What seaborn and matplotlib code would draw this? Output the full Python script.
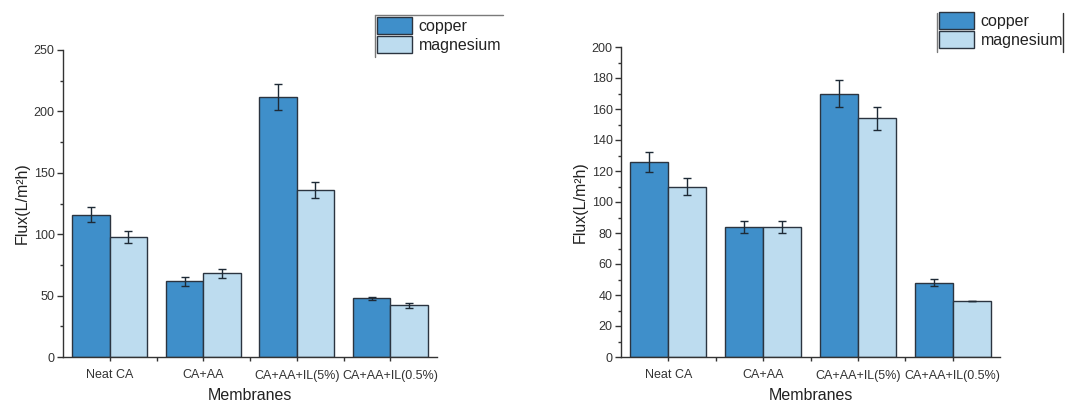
import numpy as np
import pandas as pd
import matplotlib
matplotlib.use("Agg")
import matplotlib.pyplot as plt
from matplotlib.lines import Line2D
from matplotlib.ticker import MultipleLocator, FixedLocator
import seaborn as sns

# ---------------- data ----------------
membranes = ["Neat CA", "CA+AA", "CA+AA+IL(5%)", "CA+AA+IL(0.5%)"]
metals = ["copper", "magnesium"]

left_copper = [116, 61.5, 212, 48]
left_copper_err = [6, 3.5, 10.5, 1.2]
left_magnesium = [98, 68, 136, 42]
left_magnesium_err = [5, 3.5, 6.5, 2]

right_copper = [126, 84, 170, 48]
right_copper_err = [6.5, 4, 8.6, 2.4]
right_magnesium = [110, 84, 154, 36]
right_magnesium_err = [5.5, 4, 7.3, 0]

colors = {"copper": "#3f8fca", "magnesium": "#bddcef"}
edge = "#2b3440"

sns.set_theme(style="ticks")
plt.rcParams["font.family"] = ["Liberation Sans", "DejaVu Sans"]


def make_df(cu, mg):
    return pd.DataFrame({
        "Membranes": membranes * 2,
        "Metal": ["copper"] * len(membranes) + ["magnesium"] * len(membranes),
        "Flux": list(cu) + list(mg),
    })


def draw(ax, cu, cu_err, mg, mg_err, ymax, major, minor):
    df = make_df(cu, mg)
    sns.barplot(data=df, x="Membranes", y="Flux", hue="Metal", order=membranes,
                hue_order=metals, palette=colors, width=0.8, errorbar=None,
                edgecolor=edge, linewidth=1.0, saturation=1, legend=False, ax=ax)
    for cont, err in zip(ax.containers, [cu_err, mg_err]):
        xs = [b.get_x() + b.get_width() / 2 for b in cont]
        hs = [b.get_height() for b in cont]
        ax.errorbar(xs, hs, yerr=err, fmt="none", ecolor="#1e2a36",
                    elinewidth=1.0, capsize=3, capthick=1.0, zorder=5)
    ax.set_xlim(-0.5, 3.5)
    ax.set_ylim(0, ymax)
    ax.yaxis.set_major_locator(MultipleLocator(major))
    ax.yaxis.set_minor_locator(MultipleLocator(minor))
    ax.xaxis.set_minor_locator(FixedLocator([0.5, 1.5, 2.5]))
    ax.set_xlabel("Membranes", fontsize=11.5, labelpad=5, color="#222222")
    ax.set_ylabel("Flux(L/m²h)", fontsize=11.5, labelpad=3, color="#222222")
    ax.tick_params(axis="both", which="major", labelsize=9, length=4, width=1,
                   color="#333333", labelcolor="#333333", direction="out", pad=2)
    ax.tick_params(axis="y", which="minor", length=2, width=1, color="#333333")
    ax.tick_params(axis="x", which="major", length=3, pad=6)
    ax.tick_params(axis="x", which="minor", length=3, width=1, color="#333333")
    sns.despine(ax=ax)
    for s in ["left", "bottom"]:
        ax.spines[s].set_color("#333333")
        ax.spines[s].set_linewidth(1.0)


fig = plt.figure(figsize=(10.66, 4.03), dpi=100)
W, H = 1066, 403
ax1 = fig.add_axes([63 / W, 1 - 357 / H, 374 / W, 307 / H])
ax2 = fig.add_axes([621 / W, 1 - 357 / H, 379 / W, 310 / H])

draw(ax1, left_copper, left_copper_err, left_magnesium, left_magnesium_err, 250, 50, 25)
draw(ax2, right_copper, right_copper_err, right_magnesium, right_magnesium_err, 200, 20, 10)

handles = [plt.Rectangle((0, 0), 1, 1, facecolor=colors[m], edgecolor=edge, linewidth=1.0)
           for m in metals]


def add_legend(anchor):
    leg = fig.legend(handles, metals, loc="upper left", bbox_to_anchor=anchor,
                     bbox_transform=fig.transFigure, frameon=False, fontsize=11.5,
                     handlelength=2.2, handleheight=1.3, labelspacing=0.08,
                     handletextpad=0.4, borderpad=0, borderaxespad=0)
    for t in leg.get_texts():
        t.set_color("#222222")
    return leg


add_legend((377 / W, 1 - 17 / H))
add_legend((939 / W, 1 - 12 / H))

# partial legend frame lines as in the reference
fc = "#7a7a7a"
fig.add_artist(Line2D([375 / W, 503 / W], [1 - 15 / H, 1 - 15 / H], transform=fig.transFigure, color=fc, lw=1))
fig.add_artist(Line2D([375 / W, 375 / W], [1 - 15 / H, 1 - 57 / H], transform=fig.transFigure, color=fc, lw=1))
fig.add_artist(Line2D([937 / W, 937 / W], [1 - 13 / H, 1 - 52 / H], transform=fig.transFigure, color=fc, lw=1))
fig.add_artist(Line2D([1063 / W, 1063 / W], [1 - 13 / H, 1 - 52 / H], transform=fig.transFigure, color="#333333", lw=1))

fig.savefig("out.png", dpi=100)
